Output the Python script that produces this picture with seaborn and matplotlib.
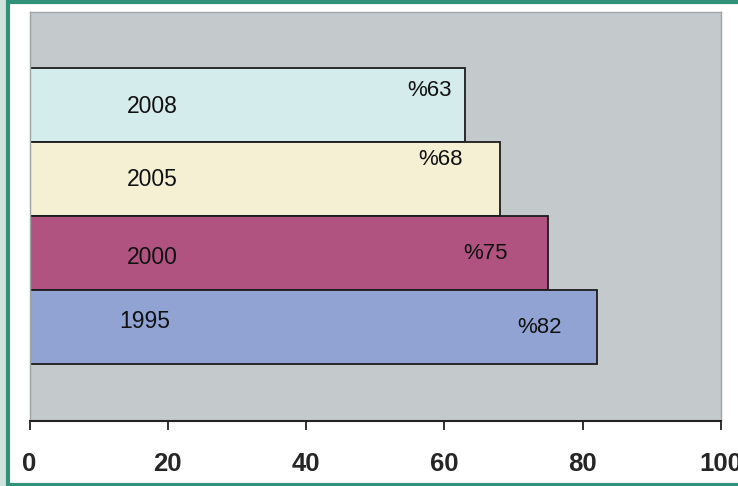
import matplotlib
matplotlib.use("Agg")
import matplotlib.pyplot as plt
from matplotlib.patches import Rectangle
import seaborn as sns
import pandas as pd

# Share of the indicator by year
years = ["2008", "2005", "2000", "1995"]
shares = [63, 68, 75, 82]
value_labels = ["%63", "%68", "%75", "%82"]
x_ticks = [0, 20, 40, 60, 80, 100]

bar_colors = ["#d5ecec", "#f5f0d4", "#b05380", "#90a3d3"]

# label placement tweaks (x shift from bar end, y shift in category units)
value_dx = [-5.2, -8.5, -9.1, -8.2]
value_dy = [-0.20, -0.26, 0.0, 0.0]
year_x = [17.7, 17.7, 17.7, 16.6]
year_dy = [0.02, 0.0, 0.06, -0.07]

df = pd.DataFrame({"year": years, "share": shares})

sns.set_theme(style="white")
plt.rcParams["font.family"] = ["Liberation Sans", "DejaVu Sans"]

fig = plt.figure(figsize=(7.38, 4.86), dpi=100)
fig.patch.set_facecolor("#cfe3dd")
# white panel with teal frame
fig.patches.append(Rectangle((7.5 / 738, 1.5 / 486), 1.0, 482.5 / 486,
                             transform=fig.transFigure, facecolor="white",
                             edgecolor="#2f9279", linewidth=3.0, zorder=-5))

ax = fig.add_axes([29.5 / 738, 65 / 486, 691.5 / 738, 409 / 486])
ax.set_zorder(2)
ax.set_facecolor("#c4c9cc")

sns.barplot(data=df, x="share", y="year", order=years, hue="year",
            palette=bar_colors, orient="h", width=1.0, edgecolor="#1c1c1c",
            linewidth=1.3, legend=False, ax=ax, saturation=1)

ax.set_xlim(0, 100)
ax.set_ylim(4.27, -1.26)
ax.set_xticks(x_ticks)
ax.set_xticklabels([str(t) for t in x_ticks], fontsize=18.5, fontweight="bold",
                   family=["Liberation Sans Narrow", "Liberation Sans", "DejaVu Sans"])
ax.set_yticks([])
ax.set_xlabel("")
ax.set_ylabel("")
ax.tick_params(axis="x", which="both", bottom=True, direction="out", length=6.5,
               width=1.3, color="#222222", pad=15.5)

for side in ["top", "left", "right"]:
    ax.spines[side].set_color("#9ea3a6")
    ax.spines[side].set_linewidth(1.0)
ax.spines["bottom"].set_color("#222222")
ax.spines["bottom"].set_linewidth(1.5)

for i, (yr, v, lab) in enumerate(zip(years, shares, value_labels)):
    ax.text(year_x[i], i + year_dy[i], yr, ha="center", va="center",
            fontsize=16.5, color="#111111")
    ax.text(v + value_dx[i], i + value_dy[i], lab, ha="center", va="center",
            fontsize=16, color="#111111")

fig.savefig("out.png", dpi=100, facecolor=fig.get_facecolor())
